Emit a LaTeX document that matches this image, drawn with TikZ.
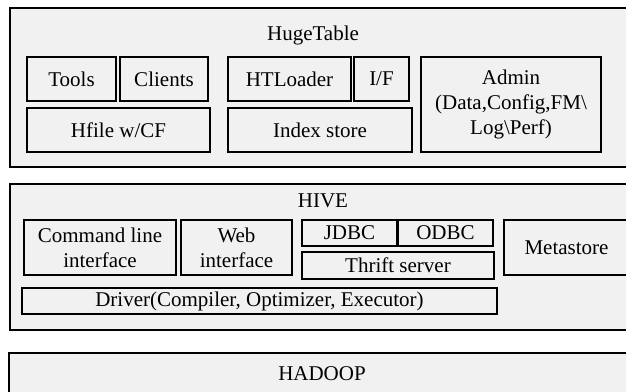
\documentclass[tikz,border=0pt]{standalone}
\usepackage{fontspec}
\setmainfont{Liberation Serif}
\definecolor{layer-gray}{gray}{0.945}
\tikzstyle{layerbox}=[draw,line width=1.6pt,fill=layer-gray,inner sep=0pt]
\tikzstyle{partbox}=[draw,line width=1.2pt,inner sep=0pt,align=center]
\tikzstyle{layertitle}=[inner sep=0pt]
% Syntax: \newpart[options]{name}{center}{width}{height}{text}
\newcommand{\newpart}[6][]{
	\node[partbox,#1,minimum width=#4pt,minimum height=#5pt] (#2) at (#3) {#6};
}

\begin{document}
\begin{tikzpicture}[x=1pt,y=-1pt,font=\fontsize{21}{25}\selectfont]
\useasboundingbox (0,0) rectangle (626,391);
\clip (0,0) rectangle (626,391);
% HugeTable layer
\begin{scope}
	\node[layerbox,minimum width=622pt,minimum height=159pt] (hugetable) at (321,87.5) {};
	\node[layertitle] (hugetitle) at (313,35) {HugeTable};
	\newpart{tools}{71.5,79}{89}{44}{Tools}
	\newpart{clients}{164,79}{88}{44}{Clients}
	\newpart{hfile}{118.5,130}{183}{44}{Hfile w/CF}
	\newpart{htloader}{289.5,79}{123}{44}{HTLoader}
	\newpart{iface}{381.5,79}{55}{44}{I/F}
	\newpart{indexstore}{320,130}{184}{44}{Index store}
	\newpart{admin}{511,104.5}{180}{95}{Admin\\(Data,Config,FM\textbackslash\\Log\textbackslash Perf)}
\end{scope}
% HIVE layer
\begin{scope}
	\node[layerbox,minimum width=622pt,minimum height=146pt] (hive) at (321,257) {};
	\node[layertitle] (hivetitle) at (323,201) {HIVE};
	\newpart{cli}{100,247.5}{152}{55}{Command line\\interface}
	\newpart{web}{236.5,247.5}{111}{55}{Web\\interface}
	\newpart{jdbc}{349.5,233}{95}{26}{JDBC}
	\newpart{odbc}{445.5,233}{95}{26}{ODBC}
	\newpart{thrift}{398,265.5}{192}{27}{Thrift server}
	\newpart{metastore}{566.5,247.5}{125}{55}{Metastore}
	\newpart{driver}{259.5,301}{475}{26}{Driver(Compiler, Optimizer, Executor)}
\end{scope}
% HADOOP layer
\node[layerbox,minimum width=623pt,minimum height=60pt] (hadoop) at (320.5,383) {};
\node[layertitle] (hadooptitle) at (322,374) {HADOOP};
\end{tikzpicture}
\end{document}
